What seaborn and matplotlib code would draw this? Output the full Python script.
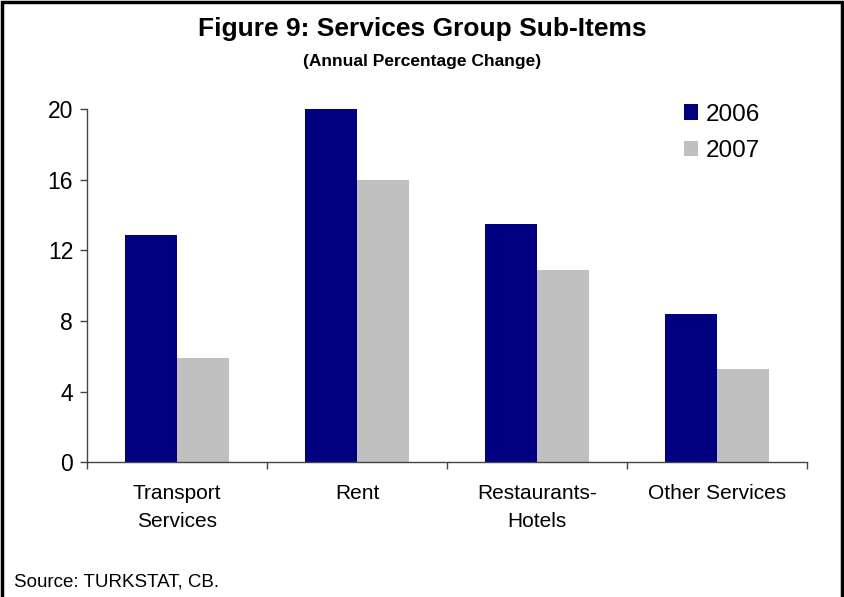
import matplotlib
matplotlib.use("Agg")
import matplotlib.pyplot as plt
import seaborn as sns
import pandas as pd
from matplotlib.patches import Rectangle

categories = ["Transport\nServices", "Rent", "Restaurants-\nHotels", "Other Services"]
years = ["2006", "2007"]
values_2006 = [12.9, 20.0, 13.5, 8.4]
values_2007 = [5.9, 16.0, 10.9, 5.3]
yticks = [0, 4, 8, 12, 16, 20]

df = pd.DataFrame({
    "category": categories * 2,
    "year": [years[0]] * 4 + [years[1]] * 4,
    "value": values_2006 + values_2007,
})

sns.set_theme(style="white")
plt.rcParams["font.family"] = ["Liberation Sans", "DejaVu Sans"]
plt.rcParams["text.color"] = "black"
plt.rcParams["xtick.color"] = "black"
plt.rcParams["ytick.color"] = "black"

fig = plt.figure(figsize=(8.45, 5.97), dpi=100)
ax = fig.add_axes([0.103, 0.226, 0.852, 0.591])

sns.barplot(data=df, x="category", y="value", hue="year",
            palette=["#000080", "#C0C0C0"], width=0.58, saturation=1,
            ax=ax, errorbar=None, linewidth=0)

ax.set_ylim(0, 20)
ax.set_xlim(-0.5, 3.5)
ax.set_yticks(yticks)
ax.set_yticklabels([str(t) for t in yticks], fontsize=16.5)
ax.set_xticks(range(4))
ax.set_xticklabels(categories, fontsize=15, linespacing=1.55)
ax.set_xticks([-0.5, 0.5, 1.5, 2.5, 3.5], minor=True)
ax.tick_params(axis="x", which="major", length=0, pad=16)
ax.tick_params(axis="x", which="minor", length=5, direction="out", color="#444444", width=1, bottom=True)
ax.tick_params(axis="y", which="major", length=5, direction="out", color="#444444", width=1, left=True, pad=5)
ax.set_xlabel("")
ax.set_ylabel("")
for s in ["top", "right"]:
    ax.spines[s].set_visible(False)
for s in ["left", "bottom"]:
    ax.spines[s].set_color("#444444")
    ax.spines[s].set_linewidth(1)

leg = ax.legend(loc="upper right", bbox_to_anchor=(0.965, 1.078), frameon=False,
                fontsize=17.5, handlelength=0.6, handleheight=0.6, handletextpad=0.3,
                labelspacing=0.6)

fig.text(0.5, 0.951, "Figure 9: Services Group Sub-Items", ha="center", va="center",
         fontsize=19, fontweight="bold")
fig.text(0.5, 0.897, "(Annual Percentage Change)", ha="center", va="center",
         fontsize=12.5, fontweight="bold")
fig.text(0.017, 0.025, "Source: TURKSTAT, CB.", ha="left", va="center", fontsize=13.5)

fig.patches.append(Rectangle((0.002, -0.01), 0.994, 1.006, transform=fig.transFigure,
                             fill=False, edgecolor="black", linewidth=2.5))

fig.savefig("out.png", dpi=100, facecolor="white")
